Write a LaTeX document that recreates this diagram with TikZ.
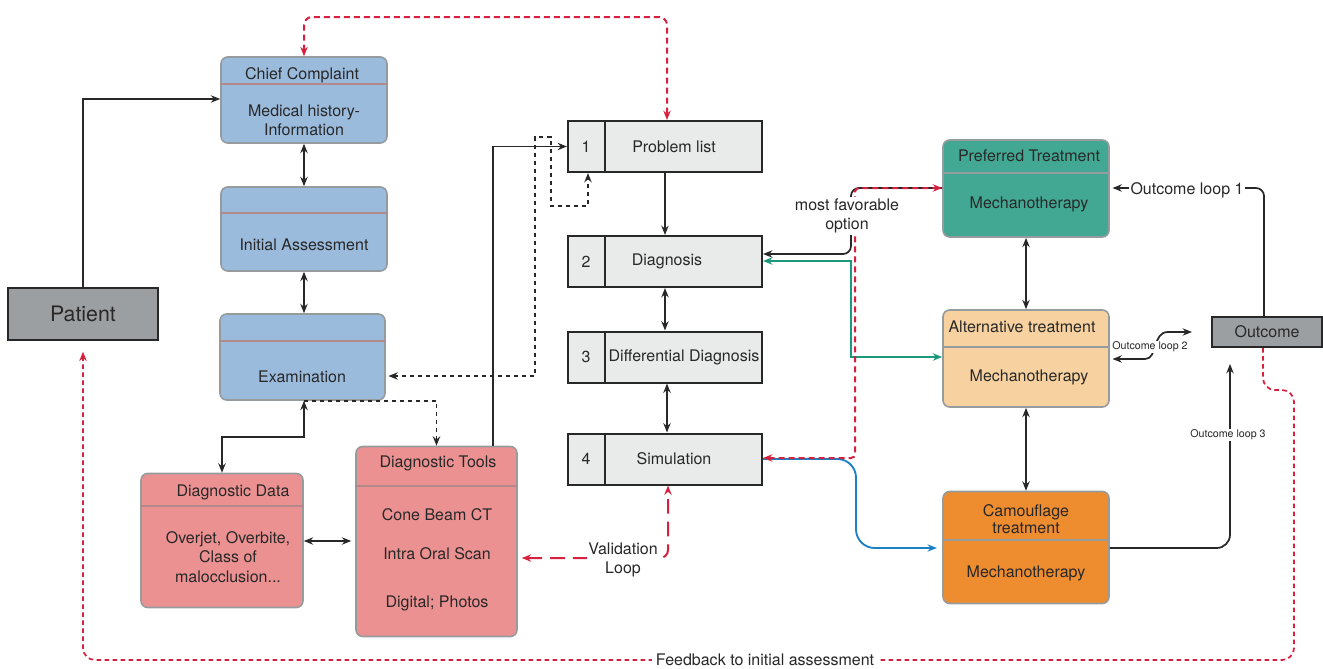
\documentclass[tikz,border=0pt]{standalone}
\usepackage{fontspec}
\setmainfont{TeX Gyre Heros}
\usepackage{tikz}
\usetikzlibrary{arrows.meta}

\definecolor{boxblue}{RGB}{155,187,221}
\definecolor{boxred}{RGB}{236,145,145}
\definecolor{boxteal}{RGB}{66,168,147}
\definecolor{boxsand}{RGB}{247,210,160}
\definecolor{boxorange}{RGB}{238,140,48}
\definecolor{boxgrey}{RGB}{156,159,162}
\definecolor{listgrey}{RGB}{233,235,234}
\definecolor{rimgrey}{RGB}{150,155,158}
\definecolor{seprose}{RGB}{178,138,138}
\definecolor{loopred}{RGB}{214,32,62}
\definecolor{loopgreen}{RGB}{26,154,122}
\definecolor{loopblue}{RGB}{27,128,196}
\definecolor{inkgrey}{RGB}{40,40,40}

\tikzset{
  every node/.style={text=inkgrey, font=\fontsize{12}{14.5}\selectfont},
  card/.style={draw=rimgrey, line width=1.2pt, rounded corners=5pt, inner sep=0pt},
  listbox/.style={draw=inkgrey, fill=listgrey, line width=1.5pt, inner sep=0pt, minimum width=145.5pt, minimum height=38.25pt},
  greybox/.style={draw=inkgrey, fill=boxgrey, line width=1.5pt, inner sep=0pt},
  sep/.style={line width=1pt},
  conn/.style={draw=inkgrey, line width=1.3pt, >={Stealth[length=7pt,width=5.5pt]}},
  reddash/.style={draw=loopred, line width=1.5pt, dash pattern=on 4.5pt off 3pt, >={Stealth[length=7pt,width=5.5pt]}, rounded corners=6pt},
  tag/.style={fill=white, inner sep=1pt, align=center},
  small/.style={font=\fontsize{8}{10}\selectfont},
}

\begin{document}
\begin{tikzpicture}[x=0.75pt,y=0.75pt,yscale=-1,xscale=1]
\useasboundingbox (0,0) rectangle (1323,668);

% Patient
\node[greybox, minimum width=112.5pt, minimum height=39pt, font=\fontsize{16}{19}\selectfont] (patient) at (83,314) {Patient};

% Chief Complaint
\node[card, fill=boxblue, minimum width=124.5pt, minimum height=64.5pt] (cc) at (304,100) {};
\draw[sep, draw=seprose] (cc.west |- 0,84) -- (cc.east |- 0,84);
\node (cct) at (302,75) {Chief Complaint};
\node[align=center] (ccb) at (304,120) {Medical history-\\Information};

% Initial Assessment
\node[card, fill=boxblue, minimum width=124.5pt, minimum height=63pt] (ia) at (304,229) {};
\draw[sep, draw=seprose] (ia.west |- 0,213) -- (ia.east |- 0,213);
\node (iab) at (304,245) {Initial Assessment};

% Examination
\node[card, fill=boxblue, minimum width=123.75pt, minimum height=64.5pt] (exam) at (302.5,357) {};
\draw[sep, draw=seprose] (exam.west |- 0,341) -- (exam.east |- 0,341);
\node (examb) at (302,377) {Examination};

% Diagnostic Data
\node[card, fill=boxred, minimum width=121.5pt, minimum height=100.5pt] (ddata) at (222,540.5) {};
\draw[sep, draw=seprose] (ddata.west |- 0,506) -- (ddata.east |- 0,506);
\node (ddatat) at (233,492) {Diagnostic Data};
\node[align=center] (ddatab) at (228,557) {Overjet, Overbite,\\Class of\\malocclusion...};

% Diagnostic Tools
\node[card, fill=boxred, minimum width=120.75pt, minimum height=142.5pt] (dtools) at (436.5,541.5) {};
\draw[sep, draw=seprose] (dtools.west |- 0,486) -- (dtools.east |- 0,486);
\node (dtoolst) at (438,463) {Diagnostic Tools};
\node (dt1) at (437,515) {Cone Beam CT};
\node (dt2) at (437,554) {Intra Oral Scan};
\node (dt3) at (437,603) {Digital; Photos};

% Problem list boxes
\node[listbox] (p1) at (665,146.5) {};
\draw[line width=1.5pt, draw=inkgrey] (p1.north -| 605,0) -- (p1.south -| 605,0);
\node (n1) at (586,146.5) {1};
\node (t1) at (674,146.5) {Problem list};

\node[listbox] (p2) at (665,261.5) {};
\draw[line width=1.5pt, draw=inkgrey] (p2.north -| 605,0) -- (p2.south -| 605,0);
\node (n2) at (586,261.5) {2};
\node (t2) at (667,261.5) {Diagnosis};

\node[listbox] (p3) at (665,357) {};
\draw[line width=1.5pt, draw=inkgrey] (p3.north -| 605,0) -- (p3.south -| 605,0);
\node (n3) at (586,357) {3};
\node (t3) at (684,357) {Differential Diagnosis};

\node[listbox] (p4) at (665,459) {};
\draw[line width=1.5pt, draw=inkgrey] (p4.north -| 605,0) -- (p4.south -| 605,0);
\node (n4) at (586,459) {4};
\node (t4) at (674,459) {Simulation};

% Treatments
\node[card, fill=boxteal, minimum width=124.5pt, minimum height=72.75pt] (pref) at (1026,188.5) {};
\draw[sep, draw=rimgrey] (pref.west |- 0,173) -- (pref.east |- 0,173);
\node (preft) at (1029,156) {Preferred Treatment};
\node (prefb) at (1029,204) {Mechanotherapy};

\node[card, fill=boxsand, minimum width=124.5pt, minimum height=72.75pt] (alt) at (1026,358.5) {};
\draw[sep, draw=rimgrey] (alt.west |- 0,347) -- (alt.east |- 0,347);
\node (altt) at (1022,327) {Alternative treatment};
\node (altb) at (1029,377) {Mechanotherapy};

\node[card, fill=boxorange, minimum width=124.5pt, minimum height=84pt] (camo) at (1026,547.5) {};
\draw[sep, draw=rimgrey] (camo.west |- 0,540) -- (camo.east |- 0,540);
\node[align=center, font=\fontsize{12}{12.75}\selectfont] (camot) at (1026,519) {Camouflage\\treatment};
\node (camob) at (1026,573) {Mechanotherapy};

% Outcome
\node[greybox, minimum width=82.5pt, minimum height=22.5pt] (outc) at (1267,332) {Outcome};

% Straight Lines
\draw[conn,->] (patient.north) |- (cc.west |- 0,99);
\draw[conn,<->] (cc.south) -- (ia.north);
\draw[conn,<->] (ia.south) -- (ia.south |- exam.north);
\draw[conn,<->] (exam.south -| 304,0) |- (ddata.north |- 0,437) -- (ddata.north);
\draw[conn,dashed,->] (exam.south -| 304,422) -| (dtools.north);
\draw[conn,<->,shorten >=3pt] (ddata.east |- 0,541) -- (dtools.west |- 0,541);
\draw[conn,->] (dtools.north -| 493,0) |- (p1.west);
\draw[conn,dashed,<->,shorten <=2pt] (exam.east |- 0,376) -| (535,137) -- (551,137) -- (551,206) -| (p1.south -| 588,0);
\draw[conn,->] (p1.south) -- (p2.north);
\draw[conn,<->] (p2.south) -- (p3.north);
\draw[conn,<->] (p3.south -| 667,0) -- (p4.north -| 667,0);
\draw[conn,<->] (pref.south) -- (alt.north);
\draw[conn,<->] (alt.south) -- (camo.north);

% most favorable option
\draw[conn,->,rounded corners=6pt] (pref.west |- 0,188) -| (851,254) -- (p2.east |- 0,254);
\draw[draw=loopgreen, line width=1.4pt, >={Stealth[length=7pt,width=5.5pt]}, <->] (p2.east |- 0,261) -| (851,357) -- (alt.west |- 0,357);
\draw[draw=loopblue, line width=1.4pt, >={Stealth[length=7pt,width=5.5pt]}, ->, rounded corners=14pt, shorten >=4pt] (p4.east |- 0,459) -| (856,548) -- (camo.west |- 0,548);
\draw[reddash,<->,rounded corners=3pt] (p4.east |- 0,458) -| (855,188) -- (pref.west |- 0,188);

% red loops
\draw[reddash,<->] (cc.north) |- (667,17) -- (p1.north -| 667,0);
\draw[reddash,<->,dash pattern=on 11pt off 6pt,shorten <=3pt] (dtools.east |- 0,558) -| (p4.south -| 668,0);
\draw[reddash,->,line width=1.3pt,dash pattern=on 3.5pt off 2.5pt,rounded corners=9pt,shorten >=8pt] (outc.south -| 1263,0) |- (1294,390) |- (patient.south |- 0,660) -- (patient.south);

% Outcome loops
\coordinate (ol2end) at (1192,332);
\coordinate (ol3end) at (1230,364);
\draw[conn,->,rounded corners=6pt,shorten >=2pt] (outc.north -| 1264,0) |- (pref.east |- 0,188);
\draw[conn,<->,shorten <=2pt] (alt.east |- 0,359) -- (1145,359) .. controls (1158,359) and (1152,332) .. (1168,332) -- (ol2end);
\draw[conn,->,rounded corners=10pt] (camo.east |- 0,548) -| (ol3end);

% Text Node
\node[tag] (mfo) at (847,216) {most favorable\\option};
\node[tag] (vloop) at (623,560) {Validation\\Loop};
\node[tag] (ol1) at (1187,190) {Outcome loop 1};
\node[tag, small] (ol2) at (1150,347) {Outcome loop 2};
\node[tag, small] (ol3) at (1228,435) {Outcome loop 3};
\node[tag, inner sep=3pt] (fb) at (765,660) {Feedback to initial assessment};

\end{tikzpicture}
\end{document}
